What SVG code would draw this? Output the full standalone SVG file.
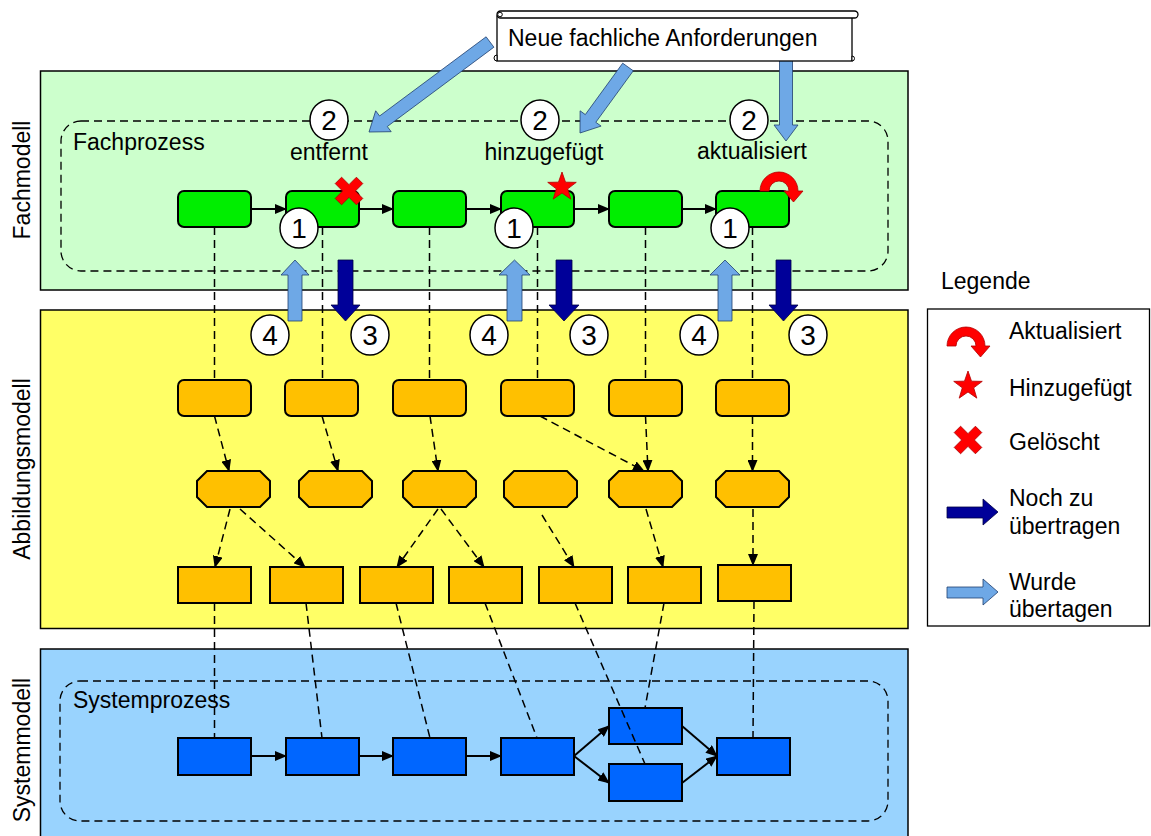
<svg xmlns="http://www.w3.org/2000/svg" width="1151" height="836" viewBox="0 0 1151 836">
<defs>
<style>
text{font-family:"Liberation Sans",Arial,sans-serif;fill:#000}
.t{font-size:23px}
.mid{text-anchor:middle}
.num{font-size:28px;text-anchor:middle}
.panel{stroke:#000;stroke-width:1.5}
.frame{fill:none;stroke:#000;stroke-width:1.3;stroke-dasharray:8 5}
.gbox{fill:#00ee00;stroke:#000;stroke-width:2}
.obox{fill:#ffc000;stroke:#000;stroke-width:2}
.bbox{fill:#0066ff;stroke:#000;stroke-width:2}
.flow{stroke:#000;stroke-width:2;fill:none;marker-end:url(#ah)}
.map{stroke:#000;stroke-width:1.5;fill:none;stroke-dasharray:8 5}
.mapa{marker-end:url(#ah)}
.circ{fill:#fff;stroke:#000;stroke-width:1.5}
.lb{fill:#6ea8e6;stroke:#1f3f6f;stroke-width:0.8}
.db{fill:#000099;stroke:#000044;stroke-width:0.8}
.red{fill:#ff0000;stroke:#b00000;stroke-width:0.8}
</style>
<marker id="ah" viewBox="0 0 12 10" refX="11" refY="5" markerWidth="12" markerHeight="10" markerUnits="userSpaceOnUse" orient="auto"><path d="M0,0 L12,5 L0,10 z" fill="#000"/></marker>
<path id="curl" d="M -19 0 A 19 19 0 0 1 19 0 L 24 0 L 14.5 11 L 5 0 L 10 0 A 10 10 0 0 0 -10 0 Z"/>
<polygon id="star" points="0,-15 3.53,-4.85 14.27,-4.64 5.71,1.85 8.82,12.14 0,6 -8.82,12.14 -5.71,1.85 -14.27,-4.64 -3.53,-4.85"/>
<polygon id="cross" points="-4.5,-15 4.5,-15 4.5,-4.5 15,-4.5 15,4.5 4.5,4.5 4.5,15 -4.5,15 -4.5,4.5 -15,4.5 -15,-4.5 -4.5,-4.5"/>
<polygon id="oct" points="10,0 63,0 73,10 73,26 63,36 10,36 0,26 0,10"/>
</defs>

<!-- panels -->
<g id="fachmodell">
<rect class="panel" x="40.5" y="71" width="867.5" height="219" fill="#ccffcc"/>
<text class="t mid" transform="translate(30,180) rotate(-90)">Fachmodell</text>
<rect id="fachprozess" class="frame" x="61" y="121" width="827" height="150" rx="20"/>
<text class="t" x="73" y="150">Fachprozess</text>
</g>
<g id="abbildungsmodell">
<rect class="panel" x="40.5" y="310" width="867.5" height="318.5" fill="#ffff66"/>
<text class="t mid" transform="translate(30,469) rotate(-90)">Abbildungsmodell</text>
</g>
<g id="systemmodell">
<rect class="panel" x="40.5" y="649" width="867.5" height="190" fill="#99d3fe"/>
<text class="t mid" transform="translate(30,750) rotate(-90)">Systemmodell</text>
<rect id="systemprozess" class="frame" x="60" y="681" width="828" height="140" rx="20"/>
<text class="t" x="73" y="708">Systemprozess</text>
</g>

<!-- Fachprozess nodes -->
<g id="f1"><rect class="gbox" x="178" y="191" width="73" height="36" rx="6"/></g>
<g id="f2"><rect class="gbox" x="286" y="191" width="73" height="36" rx="6"/></g>
<g id="f3"><rect class="gbox" x="393" y="191" width="73" height="36" rx="6"/></g>
<g id="f4"><rect class="gbox" x="501" y="191" width="73" height="36" rx="6"/></g>
<g id="f5"><rect class="gbox" x="609" y="191" width="73" height="36" rx="6"/></g>
<g id="f6"><rect class="gbox" x="716" y="191" width="73" height="36" rx="6"/></g>

<!-- Abbildung row 1 -->
<g id="a1"><rect class="obox" x="178" y="380" width="73" height="36" rx="6"/></g>
<g id="a2"><rect class="obox" x="285" y="380" width="73" height="36" rx="6"/></g>
<g id="a3"><rect class="obox" x="393" y="380" width="73" height="36" rx="6"/></g>
<g id="a4"><rect class="obox" x="501" y="380" width="73" height="36" rx="6"/></g>
<g id="a5"><rect class="obox" x="609" y="380" width="73" height="36" rx="6"/></g>
<g id="a6"><rect class="obox" x="716" y="380" width="73" height="36" rx="6"/></g>

<!-- Abbildung row 2 (octagons) -->
<g id="o1"><use href="#oct" class="obox" transform="translate(197,471)"/></g>
<g id="o2"><use href="#oct" class="obox" transform="translate(299,471)"/></g>
<g id="o3"><use href="#oct" class="obox" transform="translate(403,471)"/></g>
<g id="o4"><use href="#oct" class="obox" transform="translate(504,471)"/></g>
<g id="o5"><use href="#oct" class="obox" transform="translate(609,471)"/></g>
<g id="o6"><use href="#oct" class="obox" transform="translate(716,471)"/></g>

<!-- Abbildung row 3 -->
<g id="r1"><rect class="obox" x="178" y="567" width="73" height="36"/></g>
<g id="r2"><rect class="obox" x="270" y="567" width="73" height="36"/></g>
<g id="r3"><rect class="obox" x="360" y="567" width="73" height="36"/></g>
<g id="r4"><rect class="obox" x="449" y="567" width="73" height="36"/></g>
<g id="r5"><rect class="obox" x="539" y="567" width="73" height="36"/></g>
<g id="r6"><rect class="obox" x="628" y="567" width="73" height="36"/></g>
<g id="r7"><rect class="obox" x="718" y="565" width="73" height="36"/></g>

<!-- Systemprozess nodes -->
<g id="s1"><rect class="bbox" x="178" y="738" width="73" height="37"/></g>
<g id="s2"><rect class="bbox" x="286" y="738" width="73" height="37"/></g>
<g id="s3"><rect class="bbox" x="393" y="738" width="73" height="37"/></g>
<g id="s4"><rect class="bbox" x="501" y="738" width="73" height="37"/></g>
<g id="s5"><rect class="bbox" x="609" y="708" width="73" height="36"/></g>
<g id="s6"><rect class="bbox" x="609" y="764" width="73" height="37"/></g>
<g id="s7"><rect class="bbox" x="717" y="738" width="73" height="37"/></g>

<!-- connectors -->
<g id="connectors">
<line class="flow" x1="251" y1="209" x2="286" y2="209"/>
<line class="flow" x1="359" y1="209" x2="393" y2="209"/>
<line class="flow" x1="466" y1="209" x2="501" y2="209"/>
<line class="flow" x1="574" y1="209" x2="609" y2="209"/>
<line class="flow" x1="682" y1="209" x2="716" y2="209"/>

<line class="flow" x1="251" y1="756" x2="286" y2="756"/>
<line class="flow" x1="359" y1="756" x2="393" y2="756"/>
<line class="flow" x1="466" y1="756" x2="501" y2="756"/>
<line class="flow" x1="574" y1="756" x2="609" y2="726"/>
<line class="flow" x1="574" y1="756" x2="609" y2="783"/>
<line class="flow" x1="682" y1="726" x2="717" y2="756"/>
<line class="flow" x1="682" y1="783" x2="717" y2="756"/>

<line class="map" x1="214.5" y1="227" x2="214.5" y2="380"/>
<line class="map" x1="322.5" y1="227" x2="322.5" y2="380"/>
<line class="map" x1="429.5" y1="227" x2="429.5" y2="380"/>
<line class="map" x1="537.5" y1="227" x2="537.5" y2="380"/>
<line class="map" x1="645.5" y1="227" x2="645.5" y2="380"/>
<line class="map" x1="752.5" y1="227" x2="752.5" y2="380"/>

<line class="map mapa" x1="214.5" y1="416" x2="229" y2="471"/>
<line class="map mapa" x1="322" y1="416" x2="338" y2="471"/>
<line class="map mapa" x1="430" y1="416" x2="438" y2="471"/>
<line class="map mapa" x1="540" y1="416" x2="644" y2="471"/>
<line class="map mapa" x1="645.5" y1="416" x2="648" y2="471"/>
<line class="map mapa" x1="752.5" y1="416" x2="752.5" y2="471"/>

<line class="map mapa" x1="230" y1="509" x2="215" y2="567"/>
<line class="map mapa" x1="240" y1="509" x2="305" y2="567"/>
<line class="map mapa" x1="438" y1="509" x2="397" y2="567"/>
<line class="map mapa" x1="441" y1="509" x2="484" y2="567"/>
<line class="map mapa" x1="542" y1="515" x2="574" y2="567"/>
<line class="map mapa" x1="646" y1="509" x2="663" y2="567"/>
<line class="map mapa" x1="753" y1="509" x2="753" y2="565"/>

<line class="map" x1="214.5" y1="603" x2="214.5" y2="738"/>
<line class="map" x1="306" y1="603" x2="322" y2="738"/>
<line class="map" x1="396" y1="603" x2="430" y2="738"/>
<line class="map" x1="485" y1="603" x2="537" y2="738"/>
<line class="map" x1="575" y1="603" x2="645" y2="764"/>
<line class="map" x1="664" y1="603" x2="645" y2="708"/>
<line class="map" x1="754" y1="601" x2="753" y2="738"/>
</g>

<!-- change markers -->
<g id="markers">
<use href="#cross" class="red" transform="translate(349,191) rotate(45)"/>
<use href="#star" class="red" transform="translate(562,187)"/>
<use href="#curl" class="red" transform="translate(779,191)"/>
</g>

<!-- Neue fachliche Anforderungen -->
<g id="anforderungen">
<polygon class="lb" points="493.9,47.2 387.3,126.5 391.2,131.7 369,132 375.7,110.8 379.6,116 486.1,36.8"/>
<polygon class="lb" points="633.3,70.8 595.8,122.3 601.1,126.1 580,133 580.1,110.8 585.3,114.6 622.7,63.2"/>
<polygon class="lb" points="779.5,58 792.5,58 792.5,125 798,125 786,141 774,125 779.5,125"/>
<rect x="497" y="16" width="355" height="45" fill="#fff" stroke="#000" stroke-width="1.3"/>
<rect x="497" y="11" width="361" height="7" rx="3.5" fill="#fff" stroke="#000" stroke-width="1.3"/>
<circle cx="500" cy="14.5" r="2.3" fill="#fff" stroke="#000" stroke-width="1"/>
<path d="M497 61 L497 55 A3 3 0 0 0 497 61 Z" fill="#fff" stroke="#000" stroke-width="1"/>
<path d="M852 61 L852 56 A2.5 2.5 0 0 1 852 61 Z" fill="#fff" stroke="#000" stroke-width="1"/>
<text class="t" x="508" y="46">Neue fachliche Anforderungen</text>
</g>

<!-- step labels -->
<g id="labels">
<text class="t mid" x="329" y="160">entfernt</text>
<text class="t mid" x="544" y="160">hinzugefügt</text>
<text class="t mid" x="752" y="159">aktualisiert</text>
</g>

<!-- transfer arrows -->
<g id="transfer">
<polygon class="lb" points="288,321 302,321 302,275 309,275 295,260 281,275 288,275"/>
<polygon class="lb" points="507,321 522,321 522,275 530,275 514.5,260 499,275 507,275"/>
<polygon class="lb" points="718,321 732,321 732,275 740,275 725,260 710,275 718,275"/>
<polygon class="db" points="338,260 353,260 353,305 360,305 345.5,321 331,305 338,305"/>
<polygon class="db" points="556,260 572,260 572,305 579,305 564,321 549,305 556,305"/>
<polygon class="db" points="776,260 791,260 791,305 798,305 783.5,321 769,305 776,305"/>
</g>

<!-- numbered circles -->
<g id="steps">
<ellipse class="circ" cx="329" cy="120" rx="19" ry="20"/><text class="num" x="329" y="130">2</text>
<ellipse class="circ" cx="540" cy="120" rx="19" ry="20"/><text class="num" x="540" y="130">2</text>
<ellipse class="circ" cx="749" cy="120" rx="19" ry="20"/><text class="num" x="749" y="130">2</text>
<ellipse class="circ" cx="299" cy="228" rx="19" ry="20"/><text class="num" x="299" y="238">1</text>
<ellipse class="circ" cx="514" cy="228" rx="19" ry="20"/><text class="num" x="514" y="238">1</text>
<ellipse class="circ" cx="730" cy="228" rx="19" ry="20"/><text class="num" x="730" y="238">1</text>
<ellipse class="circ" cx="270" cy="335" rx="19" ry="20"/><text class="num" x="270" y="345">4</text>
<ellipse class="circ" cx="370" cy="335" rx="19" ry="20"/><text class="num" x="370" y="345">3</text>
<ellipse class="circ" cx="489" cy="335" rx="19" ry="20"/><text class="num" x="489" y="345">4</text>
<ellipse class="circ" cx="589" cy="335" rx="19" ry="20"/><text class="num" x="589" y="345">3</text>
<ellipse class="circ" cx="699" cy="335" rx="19" ry="20"/><text class="num" x="699" y="345">4</text>
<ellipse class="circ" cx="808" cy="335" rx="19" ry="20"/><text class="num" x="808" y="345">3</text>
</g>

<!-- legend -->
<g id="legend">
<text class="t" x="941" y="289">Legende</text>
<rect x="927.5" y="309" width="222" height="317" fill="#fff" stroke="#000" stroke-width="1.3"/>
<use href="#curl" class="red" transform="translate(966,346)"/>
<text class="t" x="1009" y="339">Aktualisiert</text>
<use href="#star" class="red" transform="translate(968,386)"/>
<text class="t" x="1009" y="396">Hinzugefügt</text>
<use href="#cross" class="red" transform="translate(968,440) rotate(45)"/>
<text class="t" x="1009" y="450">Gelöscht</text>
<polygon class="db" points="947,507 983,507 983,499 998,512 983,525 983,518 947,518"/>
<text class="t" x="1009" y="506">Noch zu</text>
<text class="t" x="1009" y="534">übertragen</text>
<polygon class="lb" points="947,587 983,587 983,579 998,592 983,605 983,598 947,598"/>
<text class="t" x="1009" y="590">Wurde</text>
<text class="t" x="1009" y="617">übertagen</text>
</g>
</svg>
